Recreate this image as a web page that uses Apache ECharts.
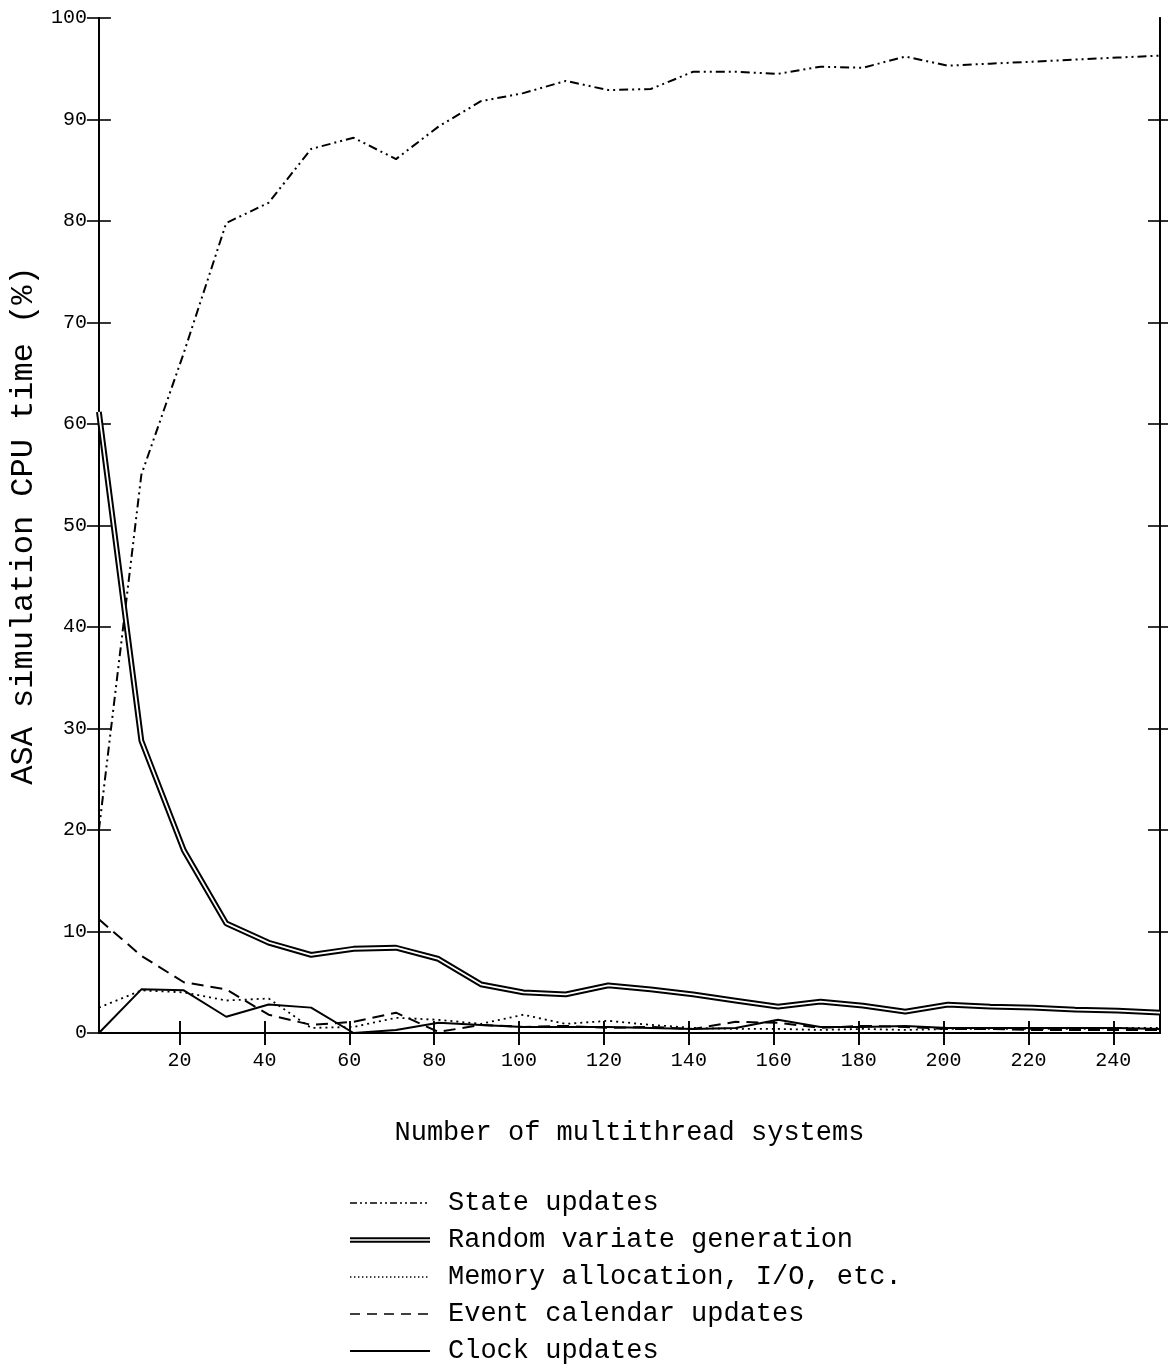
<!DOCTYPE html>
<html>
<head>
<meta charset="utf-8">
<script src="https://cdn.jsdelivr.net/npm/echarts@6/dist/echarts.min.js"></script>
<style>
html,body{margin:0;padding:0;background:#fff;}
#chart{width:1168px;height:1367px;}
</style>
</head>
<body>
<div id="chart"></div>
<script>
// ---- data ----
const systems = [1, 11, 21, 31, 41, 51, 61, 71, 81, 91, 101, 111, 121, 131, 141, 151, 161, 171, 181, 191, 201, 211, 221, 231, 241, 251];
const stateUpdates = [20, 55, 67, 79.8, 81.8, 87.1, 88.2, 86.1, 89.3, 91.8, 92.6, 93.8, 92.9, 93.0, 94.7, 94.7, 94.5, 95.2, 95.1, 96.2, 95.3, 95.5, 95.7, 95.9, 96.1, 96.3];
const randomVariate = [61.2, 28.8, 18.0, 10.8, 8.9, 7.7, 8.3, 8.4, 7.3, 4.8, 4.0, 3.8, 4.7, 4.3, 3.8, 3.2, 2.6, 3.1, 2.7, 2.1, 2.8, 2.6, 2.5, 2.3, 2.2, 2.0];
const memoryIO = [2.5, 4.2, 4.0, 3.2, 3.4, 0.5, 0.6, 1.5, 1.3, 0.9, 1.8, 0.9, 1.2, 0.8, 0.5, 0.4, 0.4, 0.3, 0.4, 0.3, 0.4, 0.4, 0.4, 0.4, 0.5, 0.5];
const eventCalendar = [11.2, 7.6, 5.0, 4.3, 1.8, 0.8, 1.1, 2.0, 0.1, 0.8, 0.6, 0.7, 0.5, 0.6, 0.4, 1.1, 1.0, 0.5, 0.7, 0.6, 0.4, 0.4, 0.3, 0.3, 0.3, 0.3];
const clockUpdates = [0, 4.3, 4.2, 1.6, 2.8, 2.5, 0, 0.3, 1.0, 0.8, 0.6, 0.6, 0.6, 0.5, 0.4, 0.5, 1.3, 0.6, 0.6, 0.7, 0.5, 0.5, 0.5, 0.5, 0.5, 0.4];
const xTicks = [20, 40, 60, 80, 100, 120, 140, 160, 180, 200, 220, 240];
const yTicks = [0, 10, 20, 30, 40, 50, 60, 70, 80, 90, 100];
const yInnerTicks = [10, 20, 30, 40, 50, 60, 70, 80, 90];
const seriesNames = ['State updates', 'Random variate generation', 'Memory allocation, I/O, etc.', 'Event calendar updates', 'Clock updates'];
const xName = 'Number of multithread systems';
const yName = 'ASA simulation CPU time (%)';

// ---- helpers (styling only) ----
const FONT = '"Liberation Mono", "DejaVu Sans Mono", monospace';
const IW = 80, IH = 14;
function rect(x, y, w, h) { return 'M' + x + ',' + y + 'h' + w + 'v' + h + 'h' + (-w) + 'Z'; }
function frame() { return rect(0, 0, 0.01, 0.01) + rect(IW - 0.01, IH - 0.01, 0.01, 0.01); }
function dashIcon(pattern, th) {
  let p = frame(), x = 0, i = 0;
  const y = (IH - th) / 2;
  while (x < IW) {
    const len = pattern[i % pattern.length];
    if (i % 2 === 0) p += rect(x, y, Math.min(len, IW - x), th);
    x += len; i++;
  }
  return 'path://' + p;
}
function doubleIcon() {
  return 'path://' + frame() + rect(0, 4.3, IW, 2) + rect(0, 7.7, IW, 2);
}
const pts = arr => systems.map((x, i) => [x, arr[i]]);

const axisLineStyle = { color: '#000', width: 2 };
function xAx(pos, inside, withLabel) {
  return {
    type: 'value', min: 1, max: 251, position: pos,
    axisLine: { show: true, lineStyle: axisLineStyle },
    axisTick: { show: true, inside: inside, length: 12, customValues: xTicks, lineStyle: { color: '#000', width: 1.6 } },
    axisLabel: withLabel ? { show: true, customValues: xTicks, color: '#000', fontFamily: FONT, fontSize: 20, margin: 18 } : { show: false },
    splitLine: { show: false },
    name: withLabel ? xName : '', nameLocation: 'middle', nameGap: 86,
    nameTextStyle: { color: '#000', fontFamily: FONT, fontSize: 27 }
  };
}
function yAx(pos, inside, withLabel, ticks) {
  return {
    type: 'value', min: 0, max: 100, position: pos,
    axisLine: { show: true, lineStyle: axisLineStyle },
    axisTick: { show: true, inside: inside, length: 12, customValues: ticks, lineStyle: { color: '#000', width: 1.6 } },
    axisLabel: withLabel ? { show: true, customValues: yTicks, color: '#000', fontFamily: FONT, fontSize: 20, margin: 12 } : { show: false },
    splitLine: { show: false },
    name: withLabel ? yName : '', nameLocation: 'middle', nameGap: 48,
    nameTextStyle: { color: '#000', fontFamily: FONT, fontSize: 32 }
  };
}

const chart = echarts.init(document.getElementById('chart'), null, { renderer: 'canvas' });
chart.setOption({
  backgroundColor: '#fff',
  animation: false,
  grid: { left: 97, right: 8, top: 18, bottom: 334, containLabel: false },
  xAxis: [xAx('bottom', false, true), xAx('bottom', true, false), xAx('top', false, false), xAx('top', true, false)],
  yAxis: [yAx('left', false, true, yTicks), yAx('left', true, false, yTicks), yAx('right', false, false, yInnerTicks), yAx('right', true, false, yInnerTicks)],
  legend: {
    orient: 'vertical', left: 350, top: 1189, padding: 0,
    itemWidth: IW, itemHeight: IH, itemGap: 9,
    textStyle: { color: '#000', fontFamily: FONT, fontSize: 27, lineHeight: 28, padding: [0, 0, 0, 13] },
    inactiveColor: '#000',
    selectedMode: false,
    data: [
      { name: seriesNames[0], icon: dashIcon([7, 3, 2, 3, 2, 3], 1.6), itemStyle: { color: '#000', borderWidth: 0 } },
      { name: seriesNames[1], icon: doubleIcon(), itemStyle: { color: '#000', borderWidth: 0 } },
      { name: seriesNames[2], icon: dashIcon([1.4, 2.6], 1.4), itemStyle: { color: '#000', borderWidth: 0 } },
      { name: seriesNames[3], icon: dashIcon([10, 7], 1.6), itemStyle: { color: '#000', borderWidth: 0 } },
      { name: seriesNames[4], icon: dashIcon([80, 0], 2), itemStyle: { color: '#000', borderWidth: 0 } }
    ]
  },
  series: [
    { name: seriesNames[0], type: 'line', data: pts(stateUpdates), symbol: 'none', color: '#000',
      lineStyle: { color: '#000', width: 2, type: [9, 4, 2, 4, 2, 4] } },
    { name: seriesNames[1], type: 'line', data: pts(randomVariate), symbol: 'none', color: '#000',
      lineStyle: { color: '#000', width: 5.8 }, z: 3 },
    { name: 'rv-core', type: 'line', data: pts(randomVariate), symbol: 'none', color: '#fff', silent: true,
      lineStyle: { color: '#fff', width: 1.8 }, z: 4 },
    { name: seriesNames[2], type: 'line', data: pts(memoryIO), symbol: 'none', color: '#000',
      lineStyle: { color: '#000', width: 1.8, type: [2, 4] } },
    { name: seriesNames[3], type: 'line', data: pts(eventCalendar), symbol: 'none', color: '#000',
      lineStyle: { color: '#000', width: 2, type: [12, 7] } },
    { name: seriesNames[4], type: 'line', data: pts(clockUpdates), symbol: 'none', color: '#000',
      lineStyle: { color: '#000', width: 2 } }
  ]
});
</script>
</body>
</html>
